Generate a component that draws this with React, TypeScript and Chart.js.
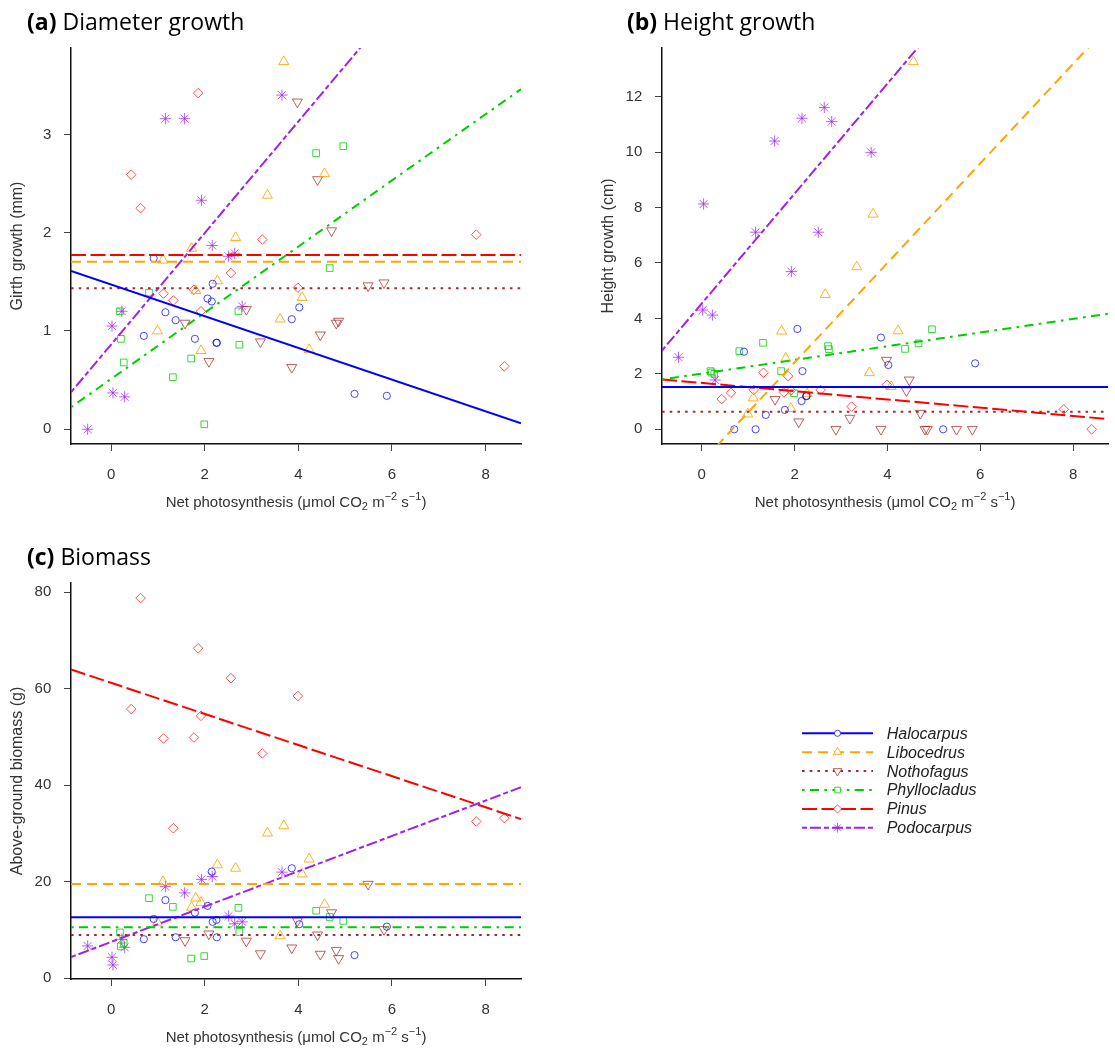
import React, { useEffect, useRef } from 'react';
import { Chart, registerables } from 'chart.js';
import { drawPoint } from 'chart.js/helpers';

Chart.register(...registerables);

// ---------------- Data ----------------
const SPECIES = ['Halocarpus', 'Libocedrus', 'Nothofagus', 'Phyllocladus', 'Pinus', 'Podocarpus'];

// Net photosynthesis (x) for each plant, per species
const photoHalocarpus = [0.70, 0.91, 1.16, 1.38, 1.79, 2.06, 2.15, 2.17, 2.25, 2.26, 3.86, 4.02, 5.20, 5.89];
const photoLibocedrus = [0.99, 1.11, 1.72, 1.81, 1.92, 2.27, 2.66, 3.34, 3.61, 3.69, 4.08, 4.23, 4.56];
const photoNothofagus = [1.58, 2.09, 2.89, 3.19, 3.86, 3.98, 4.41, 4.47, 4.71, 4.81, 4.86, 5.49, 5.83];
const photoPhyllocladus = [0.19, 0.21, 0.27, 0.81, 1.32, 1.71, 1.99, 2.72, 2.74, 4.38, 4.67, 4.96];
const photoPinus = [0.43, 0.63, 1.12, 1.33, 1.77, 1.86, 1.92, 2.56, 3.23, 3.99, 7.80, 8.40];
const photoPodocarpus = [-0.50, 0.02, 0.04, 0.23, 0.29, 1.16, 1.57, 1.93, 2.16, 2.51, 2.64, 2.80, 3.65];

// (a) Girth growth (mm)
const girthHalocarpus = [0.95, 1.74, 1.19, 1.11, 0.92, 1.33, 1.30, 1.48, 0.88, 0.88, 1.12, 1.24, 0.36, 0.34];
const girthLibocedrus = [1.00, 1.72, 1.84, 1.41, 0.80, 1.51, 1.95, 2.38, 1.12, 3.74, 1.34, 0.81, 2.60];
const girthNothofagus = [1.08, 0.69, 1.22, 0.89, 0.63, 3.33, 2.54, 0.96, 2.02, 1.08, 1.10, 1.46, 1.49];
const girthPhyllocladus = [1.20, 0.92, 0.68, 1.39, 0.53, 0.72, 0.05, 1.20, 0.86, 2.81, 1.64, 2.88];
const girthPinus = [2.59, 2.25, 1.38, 1.31, 1.42, 3.42, 1.20, 1.59, 1.93, 1.44, 1.98, 0.64];
const girthPodocarpus = [0.00, 1.05, 0.37, 1.20, 0.33, 3.16, 3.16, 2.33, 1.87, 1.76, 1.79, 1.25, 3.40];

// (b) Height growth (cm)
const heightHalocarpus = [0, 2.80, 0, 0.52, 0.70, 3.62, 1.02, 2.10, 1.20, 1.20, 3.31, 2.32, 0, 2.38];
const heightLibocedrus = [0.55, 1.13, 3.54, 2.56, 0.75, 1.28, 4.86, 5.86, 2.04, 7.76, 1.54, 3.55, 13.26];
const heightNothofagus = [1.08, 0.27, 0, 0.40, 0, 2.49, 1.39, 1.78, 0.58, 0, 0, 0, 0];
const heightPhyllocladus = [2.10, 2.05, 2.00, 2.82, 3.12, 2.10, 1.30, 3.00, 2.89, 2.90, 3.10, 3.61];
const heightPinus = [1.09, 1.32, 1.42, 2.04, 1.33, 1.92, 1.40, 1.42, 0.82, 1.61, 0.72, 0];
const heightPodocarpus = [2.60, 4.30, 8.13, 4.12, 1.78, 7.11, 10.40, 5.69, 11.22, 7.11, 11.61, 11.10, 9.99];

// (c) Above-ground biomass (g)
const biomassHalocarpus = [8.1, 12.3, 16.2, 8.5, 13.6, 15.0, 22.1, 11.7, 12.1, 8.5, 22.8, 11.2, 4.8, 10.7];
const biomassLibocedrus = [11.6, 20.0, 14.7, 16.6, 15.7, 23.5, 22.8, 30.1, 8.8, 31.6, 21.6, 24.7, 15.3];
const biomassNothofagus = [7.8, 9.2, 7.7, 5.1, 6.3, 11.9, 9.0, 5.0, 13.6, 5.8, 4.1, 19.5, 10.1];
const biomassPhyllocladus = [9.5, 6.6, 7.3, 16.6, 14.8, 4.1, 4.6, 14.6, 9.6, 14.0, 12.7, 11.9];
const biomassPinus = [55.8, 78.8, 49.7, 31.1, 49.9, 68.4, 54.4, 62.2, 46.6, 58.5, 32.5, 33.2];
const biomassPodocarpus = [6.7, 4.35, 2.76, 8.08, 6.42, 19.0, 17.7, 20.5, 21.1, 12.9, 11.3, 11.7, 22.0];

// Fitted lines: value at each end of the x range
const fitX = [-0.856, 8.756];
const girthFitHalocarpus = [1.61, 0.06];
const girthFitLibocedrus = [1.705, 1.705];
const girthFitNothofagus = [1.434, 1.434];
const girthFitPhyllocladus = [0.224, 3.46];
const girthFitPinus = [1.773, 1.773];
const girthFitPodocarpus = [0.376, 5.83];

const heightFitHalocarpus = [1.53, 1.53];
const heightFitLibocedrus = [-2.72, 14.54];
const heightFitNothofagus = [0.63, 0.63];
const heightFitPhyllocladus = [1.80, 4.17];
const heightFitPinus = [1.80, 0.37];
const heightFitPodocarpus = [2.84, 21.9];

const biomassFitHalocarpus = [12.64, 12.64];
const biomassFitLibocedrus = [19.54, 19.54];
const biomassFitNothofagus = [8.97, 8.97];
const biomassFitPhyllocladus = [10.57, 10.57];
const biomassFitPinus = [64.0, 33.0];
const biomassFitPodocarpus = [4.4, 39.6];

const X_TICKS = [0, 2, 4, 6, 8];
const GIRTH_TICKS = [0, 1, 2, 3];
const HEIGHT_TICKS = [0, 2, 4, 6, 8, 10, 12];
const BIOMASS_TICKS = [0, 20, 40, 60, 80];

const XTITLE_PARTS = [
  { t: 'Net photosynthesis (\u03bcmol CO', k: 0 },
  { t: '2', k: -1 },
  { t: ' m', k: 0 },
  { t: '\u22122', k: 1 },
  { t: ' s', k: 0 },
  { t: '\u22121', k: 1 },
  { t: ')', k: 0 },
];

// ---------------- Styles ----------------
const LINE_COLORS = ['#0000FF', '#FFA500', '#A52A2A', '#00CD00', '#FF0000', '#A020F0'];
const POINT_COLORS = [
  'rgba(0,0,255,0.72)',
  'rgba(255,165,0,0.85)',
  'rgba(165,42,42,0.75)',
  'rgba(0,205,0,0.78)',
  'rgba(255,0,0,0.68)',
  'rgba(160,32,240,0.72)',
];
const POINT_STYLES = ['circle', 'triangle', 'triangle', 'rect', 'rectRot', 'star'];
const POINT_ROT = [0, 0, 180, 0, 0, 0];
const POINT_RADII = [3.6, 5.8, 5.8, 4.7, 4.8, 5.6];
const DASHES = [[], [10, 6], [2.6, 5.1], [2.6, 5.4, 9, 5.4], [15, 4.5], [5, 3, 11, 3]];

const PHOTO = [photoHalocarpus, photoLibocedrus, photoNothofagus, photoPhyllocladus, photoPinus, photoPodocarpus];

const FONT = '"Liberation Sans", Arial, sans-serif';
const TITLE_FONT = '"Open Sans", "Noto Sans", sans-serif';

type PanelSpec = {
  left: number; top: number; w: number; h: number;
  area: { l: number; t: number; r: number; b: number };
  yMin: number; yMax: number; yTicks: number[];
  tag: string; title: string; titleX: number; titleY: number;
  yTitle: string;
  values: number[][];
  fits: number[][];
  legend?: boolean;
};

const PANELS: PanelSpec[] = [
  {
    left: 0, top: 0, w: 540, h: 520,
    area: { l: 71, t: 48, r: 521, b: 444 },
    yMin: -0.15, yMax: 3.879, yTicks: GIRTH_TICKS,
    tag: '(a)', title: 'Diameter growth', titleX: 27, titleY: 29.5,
    yTitle: 'Girth growth (mm)',
    values: [girthHalocarpus, girthLibocedrus, girthNothofagus, girthPhyllocladus, girthPinus, girthPodocarpus],
    fits: [girthFitHalocarpus, girthFitLibocedrus, girthFitNothofagus, girthFitPhyllocladus, girthFitPinus, girthFitPodocarpus],
  },
  {
    left: 560, top: 0, w: 555, h: 520,
    area: { l: 102, t: 48, r: 553, b: 444 },
    yMin: -0.53, yMax: 13.755, yTicks: HEIGHT_TICKS,
    tag: '(b)', title: 'Height growth', titleX: 67, titleY: 29.5,
    yTitle: 'Height growth (cm)',
    values: [heightHalocarpus, heightLibocedrus, heightNothofagus, heightPhyllocladus, heightPinus, heightPodocarpus],
    fits: [heightFitHalocarpus, heightFitLibocedrus, heightFitNothofagus, heightFitPhyllocladus, heightFitPinus, heightFitPodocarpus],
  },
  {
    left: 0, top: 530, w: 1115, h: 520,
    area: { l: 71, t: 53, r: 521, b: 449 },
    yMin: -0.15, yMax: 81.93, yTicks: BIOMASS_TICKS,
    tag: '(c)', title: 'Biomass', titleX: 27, titleY: 35,
    yTitle: 'Above-ground biomass (g)',
    values: [biomassHalocarpus, biomassLibocedrus, biomassNothofagus, biomassPhyllocladus, biomassPinus, biomassPodocarpus],
    fits: [biomassFitHalocarpus, biomassFitLibocedrus, biomassFitNothofagus, biomassFitPhyllocladus, biomassFitPinus, biomassFitPodocarpus],
    legend: true,
  },
];

function makeDecor(spec: PanelSpec) {
  return {
    id: 'decor',
    afterDraw(chart: any) {
      const ctx: CanvasRenderingContext2D = chart.ctx;
      const ca = chart.chartArea;
      ctx.save();
      // Panel title
      ctx.textAlign = 'left';
      ctx.textBaseline = 'alphabetic';
      ctx.fillStyle = '#000';
      ctx.font = `bold 23px ${TITLE_FONT}`;
      ctx.fillText(spec.tag, spec.titleX, spec.titleY);
      const tw = ctx.measureText(spec.tag + ' ').width;
      ctx.font = `23px ${TITLE_FONT}`;
      ctx.fillText(spec.title, spec.titleX + tw, spec.titleY);

      // Y title
      ctx.save();
      ctx.fillStyle = '#333';
      ctx.font = `16px ${FONT}`;
      ctx.translate(ca.left - 53.5, (ca.top + ca.bottom) / 2);
      ctx.rotate(-Math.PI / 2);
      ctx.textAlign = 'center';
      ctx.textBaseline = 'middle';
      ctx.fillText(spec.yTitle, 0, 0);
      ctx.restore();

      // X title with sub/superscripts
      ctx.fillStyle = '#333';
      const mainF = `15px ${FONT}`;
      const smallF = `11px ${FONT}`;
      let total = 0;
      for (const p of XTITLE_PARTS) {
        ctx.font = p.k ? smallF : mainF;
        total += ctx.measureText(p.t).width;
      }
      let x = (ca.left + ca.right) / 2 - total / 2;
      const base = ca.bottom + 62.5;
      ctx.textAlign = 'left';
      ctx.textBaseline = 'alphabetic';
      for (const p of XTITLE_PARTS) {
        ctx.font = p.k ? smallF : mainF;
        const dy = p.k === -1 ? 3.5 : p.k === 1 ? -7 : 0;
        ctx.fillText(p.t, x, base + dy);
        x += ctx.measureText(p.t).width;
      }

      // Legend
      if (spec.legend) {
        const y0 = 203.3;
        const step = 18.9;
        const x1 = 802, x2 = 873, xm = (x1 + x2) / 2;
        SPECIES.forEach((name, i) => {
          const y = y0 + i * step;
          ctx.save();
          ctx.strokeStyle = LINE_COLORS[i];
          ctx.lineWidth = 2;
          ctx.setLineDash(DASHES[i]);
          ctx.beginPath();
          ctx.moveTo(x1, y);
          ctx.lineTo(x2, y);
          ctx.stroke();
          ctx.setLineDash([]);
          ctx.strokeStyle = POINT_COLORS[i];
          ctx.fillStyle = 'rgba(255,255,255,1)';
          ctx.lineWidth = 1;
          drawPoint(ctx, {
            pointStyle: POINT_STYLES[i] as any,
            rotation: POINT_ROT[i],
            radius: POINT_RADII[i] * 0.85,
            borderWidth: 1,
          } as any, xm, y);
          ctx.restore();
          ctx.fillStyle = '#222';
          ctx.font = `italic 16px ${FONT}`;
          ctx.textAlign = 'left';
          ctx.textBaseline = 'middle';
          ctx.fillText(name, 886.7, y + 1);
        });
      }
      ctx.restore();
    },
  };
}

function buildConfig(spec: PanelSpec): any {
  const datasets: any[] = [];
  SPECIES.forEach((name, i) => {
    const xs = PHOTO[i];
    const ys = spec.values[i];
    datasets.push({
      type: 'scatter',
      label: name,
      data: xs.map((x, k) => ({ x, y: ys[k] })),
      showLine: false,
      pointStyle: POINT_STYLES[i],
      pointRotation: POINT_ROT[i],
      pointRadius: POINT_RADII[i],
      pointBorderColor: POINT_COLORS[i],
      pointBackgroundColor: 'rgba(0,0,0,0)',
      pointBorderWidth: 1,
      order: 1,
      clip: false,
    });
  });
  SPECIES.forEach((name, i) => {
    const ys = spec.fits[i];
    datasets.push({
      type: 'scatter',
      label: name + ' fit',
      data: fitX.map((x, k) => ({ x, y: ys[k] })),
      showLine: true,
      borderColor: LINE_COLORS[i],
      borderWidth: 2,
      borderDash: DASHES[i],
      borderCapStyle: 'butt',
      pointRadius: 0,
      pointHoverRadius: 0,
      order: 0,
      clip: 0,
    });
  });

  const tickFont = { family: FONT, size: 15 };
  return {
    type: 'scatter',
    data: { datasets },
    options: {
      animation: false,
      responsive: false,
      events: [],
      layout: {
        padding: { left: 0, top: spec.area.t, right: spec.w - spec.area.r, bottom: 0 },
      },
      plugins: { legend: { display: false }, tooltip: { enabled: false } },
      scales: {
        x: {
          type: 'linear',
          min: fitX[0],
          max: fitX[1],
          afterBuildTicks: (s: any) => { s.ticks = X_TICKS.map((v) => ({ value: v })); },
          afterFit: (s: any) => { s.height = spec.h - spec.area.b; },
          grid: { display: true, drawOnChartArea: false, drawTicks: true, tickLength: 7, color: '#444', lineWidth: 1 },
          border: { display: true, color: '#111', width: 1.5 },
          ticks: { font: tickFont, color: '#333', padding: 15, maxRotation: 0, autoSkip: false },
          title: { display: false },
        },
        y: {
          type: 'linear',
          min: spec.yMin,
          max: spec.yMax,
          afterBuildTicks: (s: any) => { s.ticks = spec.yTicks.map((v) => ({ value: v })); },
          afterFit: (s: any) => { s.width = spec.area.l; },
          grid: { display: true, drawOnChartArea: false, drawTicks: true, tickLength: 7, color: '#444', lineWidth: 1 },
          border: { display: true, color: '#111', width: 1.5 },
          ticks: { font: tickFont, color: '#333', padding: 12.7, autoSkip: false },
          title: { display: false },
        },
      },
    },
    plugins: [makeDecor(spec)],
  };
}

function Panel({ spec }: { spec: PanelSpec }) {
  const ref = useRef<HTMLCanvasElement>(null);
  useEffect(() => {
    if (!ref.current) return;
    const chart = new Chart(ref.current, buildConfig(spec));
    return () => chart.destroy();
  }, [spec]);
  return (
    <canvas
      ref={ref}
      width={spec.w}
      height={spec.h}
      style={{ position: 'absolute', left: spec.left, top: spec.top, width: spec.w, height: spec.h, display: 'block' }}
    />
  );
}

export default function App() {
  return (
    <div style={{ position: 'absolute', left: 0, top: 0, width: 1115, height: 1050, background: '#fff', overflow: 'hidden' }}>
      {PANELS.map((p) => (
        <Panel key={p.tag} spec={p} />
      ))}
    </div>
  );
}
